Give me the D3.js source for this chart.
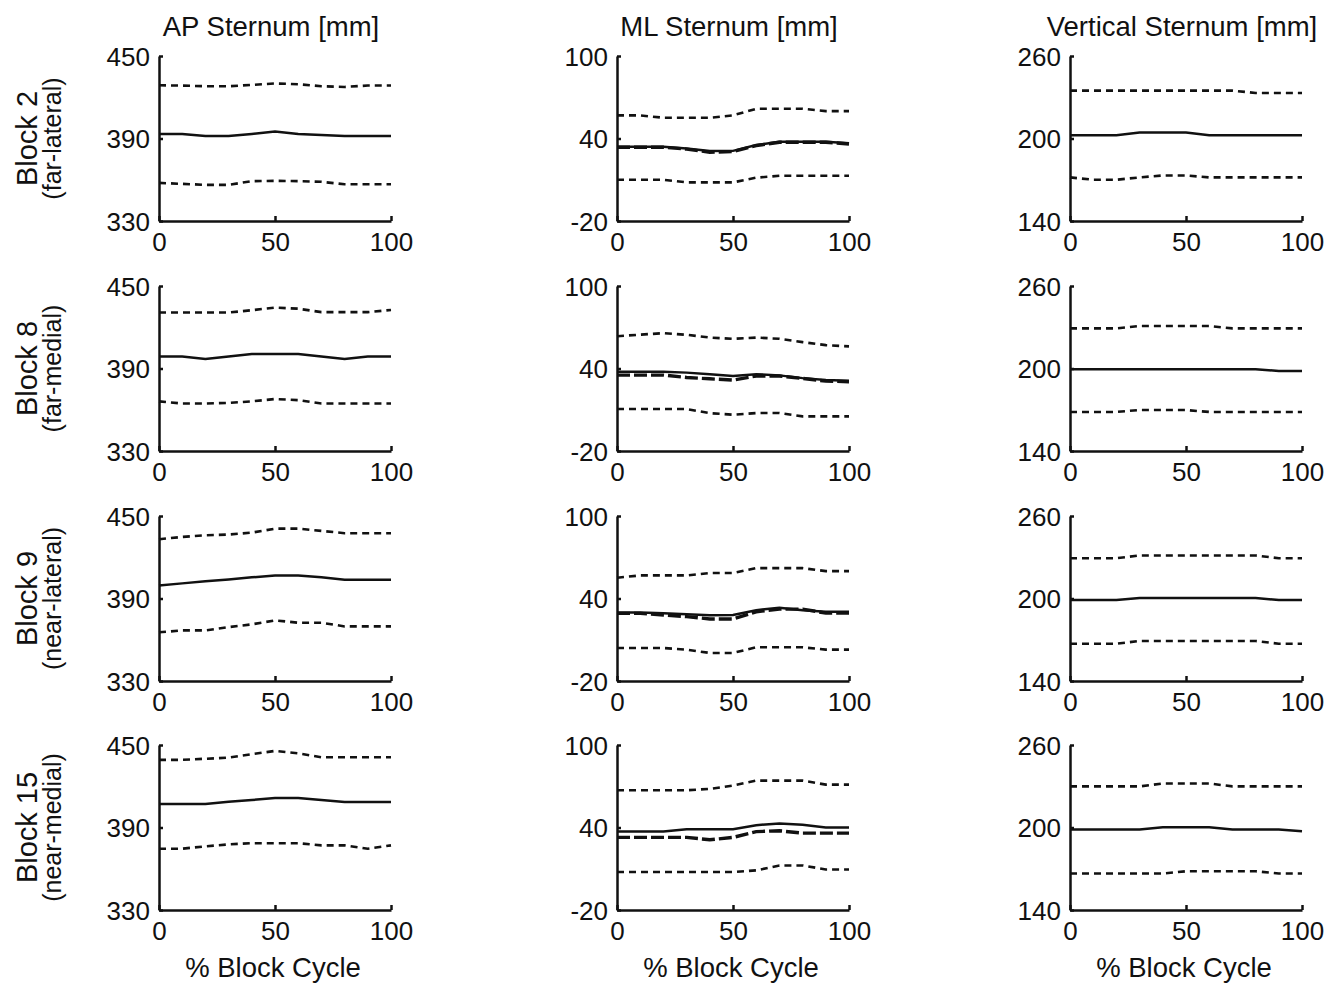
<!DOCTYPE html>
<html>
<head>
<meta charset="utf-8">
<script src="https://cdn.jsdelivr.net/npm/d3@7"></script>
<style>
  body { margin: 0; background: #fff; }
  svg { display: block; font-family: "Liberation Sans", Arial, sans-serif; }
  .axis path, .axis line { stroke: #111; stroke-width: 2.5; }
  .axis text { font-size: 26px; fill: #111; }
  .title { font-size: 27.5px; fill: #111; }
</style>
</head>
<body>
<svg id="chart" width="1337" height="984"></svg>
<script>
// ---- data ----
const xPct = [0, 10, 20, 30, 40, 50, 60, 70, 80, 90, 100];
const xTicks = [0, 50, 100];
const columnTitles = ["AP Sternum [mm]", "ML Sternum [mm]", "Vertical Sternum [mm]"];
const rowBlocks = ["Block 2", "Block 8", "Block 9", "Block 15"];
const rowSides = ["(far-lateral)", "(far-medial)", "(near-lateral)", "(near-medial)"];
const xLabel = "% Block Cycle";

const apTicks = [330, 390, 450];
const mlTicks = [-20, 40, 100];
const vtTicks = [140, 200, 260];

// AP sternum, one row per block
const apMean = [
  [393.3, 393.3, 391.8, 391.8, 393.3, 395.1, 393.3, 392.5, 391.8, 391.8, 391.8],
  [398.7, 398.7, 397.0, 398.7, 400.6, 400.6, 400.6, 398.7, 397.0, 398.7, 398.7],
  [399.4, 401.0, 402.5, 403.9, 405.4, 406.8, 406.8, 405.4, 403.7, 403.7, 403.7],
  [407.1, 407.1, 407.1, 408.8, 410.0, 411.4, 411.4, 410.0, 408.6, 408.6, 408.6]
];
const apUpper = [
  [428.7, 428.5, 428.0, 428.0, 429.0, 430.0, 429.5, 428.0, 427.5, 428.5, 428.5],
  [430.7, 430.7, 430.7, 430.7, 432.4, 434.3, 433.5, 431.0, 431.0, 431.0, 432.6],
  [433.1, 434.8, 436.0, 436.5, 437.9, 440.8, 440.8, 439.2, 437.5, 437.5, 437.5],
  [439.2, 439.2, 440.0, 440.8, 443.3, 445.7, 443.9, 441.1, 441.1, 441.1, 441.1]
];
const apLower = [
  [357.7, 357.0, 356.3, 356.3, 359.0, 359.2, 359.0, 358.5, 356.7, 356.7, 356.7],
  [366.1, 364.5, 364.5, 365.0, 366.1, 367.8, 367.0, 364.5, 364.5, 364.5, 364.5],
  [365.4, 366.8, 366.8, 369.2, 371.2, 374.1, 372.4, 372.4, 369.7, 369.7, 369.7],
  [374.6, 374.6, 376.3, 377.7, 378.6, 378.6, 378.6, 377.0, 377.0, 374.6, 377.0]
];

// ML sternum (with a second, bold dashed trace)
const mlMean = [
  [34.0, 34.0, 34.0, 32.8, 30.9, 31.0, 35.2, 37.6, 37.6, 37.6, 36.5],
  [37.6, 37.6, 37.6, 37.0, 35.9, 34.5, 35.9, 35.0, 33.0, 31.6, 31.1],
  [29.9, 29.9, 29.2, 28.5, 27.9, 28.0, 31.5, 33.3, 31.5, 30.3, 30.3],
  [37.1, 37.1, 37.1, 38.8, 38.8, 38.8, 41.7, 42.9, 42.0, 40.0, 40.0]
];
const mlAlt = [
  [33.6, 33.6, 33.6, 32.3, 30.0, 30.5, 34.8, 37.3, 37.3, 37.3, 36.0],
  [35.2, 35.2, 35.2, 33.5, 32.5, 31.6, 34.5, 34.5, 32.8, 30.8, 30.4],
  [29.2, 29.2, 28.0, 26.8, 25.1, 25.1, 30.3, 32.3, 32.3, 29.4, 29.4],
  [32.8, 32.8, 32.8, 32.8, 31.1, 32.8, 37.0, 37.6, 35.9, 35.9, 35.9]
];
const mlUpper = [
  [56.8, 56.8, 55.1, 55.1, 55.1, 56.8, 61.6, 61.6, 61.6, 59.9, 59.9],
  [63.5, 64.6, 65.7, 64.5, 62.5, 61.6, 62.5, 61.6, 59.2, 57.0, 56.1],
  [55.1, 56.8, 56.8, 56.8, 58.5, 58.5, 62.1, 62.1, 62.1, 59.9, 59.9],
  [67.1, 67.1, 67.1, 67.1, 68.1, 70.5, 74.1, 74.1, 74.1, 71.2, 71.2]
];
const mlLower = [
  [10.0, 10.0, 10.0, 8.1, 8.1, 8.1, 11.5, 12.9, 12.9, 12.9, 12.9],
  [10.5, 10.5, 10.5, 10.5, 7.5, 6.4, 7.6, 7.6, 5.2, 5.2, 5.2],
  [4.0, 4.0, 4.0, 2.8, 0.4, 0.4, 4.5, 4.5, 4.5, 2.8, 2.8],
  [7.6, 7.6, 7.6, 7.6, 7.6, 7.6, 8.8, 12.4, 12.4, 9.5, 9.5]
];

// Vertical sternum
const vtMean = [
  [202.4, 202.4, 202.4, 204.4, 204.4, 204.4, 202.4, 202.4, 202.4, 202.4, 202.4],
  [199.4, 199.4, 199.4, 199.4, 199.4, 199.4, 199.4, 199.4, 199.4, 198.2, 198.2],
  [198.9, 198.9, 198.9, 200.4, 200.4, 200.4, 200.4, 200.4, 200.4, 198.9, 198.9],
  [198.5, 198.5, 198.5, 198.5, 200.2, 200.2, 200.2, 198.5, 198.5, 198.5, 197.3]
];
const vtUpper = [
  [234.8, 234.8, 234.8, 234.8, 234.8, 234.8, 234.8, 234.8, 233.1, 233.1, 233.1],
  [229.2, 229.2, 229.2, 230.9, 230.9, 230.9, 230.9, 229.2, 229.2, 229.2, 229.2],
  [229.3, 229.3, 229.3, 231.3, 231.3, 231.3, 231.3, 231.3, 231.3, 229.3, 229.3],
  [229.9, 229.9, 229.9, 229.9, 232.0, 232.0, 232.0, 229.9, 229.9, 229.9, 229.9]
];
const vtLower = [
  [171.7, 170.0, 170.0, 171.7, 173.1, 173.1, 171.7, 171.7, 171.7, 171.7, 171.7],
  [168.4, 168.4, 168.4, 169.8, 169.8, 169.8, 168.4, 168.4, 168.4, 168.4, 168.4],
  [167.1, 167.1, 167.1, 169.1, 169.1, 169.1, 169.1, 169.1, 169.1, 167.1, 167.1],
  [166.5, 166.5, 166.5, 166.5, 166.5, 168.2, 168.2, 168.2, 168.2, 166.5, 166.5]
];

// ---- layout ----
const svg = d3.select('#chart');
const COL_X = [159, 617, 1070];
const ROW_Y = [56, 286, 516, 745];
const PW = 232;
const PH = 165;

const x = d3.scaleLinear().domain([0, 100]).range([0, PW]);
const plain = d => String(d); // keep ascii hyphen for negatives

const columns = [
  { ticks: apTicks, mean: apMean, upper: apUpper, lower: apLower, alt: null },
  { ticks: mlTicks, mean: mlMean, upper: mlUpper, lower: mlLower, alt: mlAlt },
  { ticks: vtTicks, mean: vtMean, upper: vtUpper, lower: vtLower, alt: null }
];

columns.forEach((col, ci) => {
  const y = d3.scaleLinear().domain([col.ticks[0], col.ticks[2]]).range([PH, 0]);
  const line = d3.line()
    .x((d, i) => x(xPct[i]))
    .y(d => y(d));

  // column title
  svg.append('text')
    .attr('class', 'title')
    .attr('x', COL_X[ci] + PW / 2 - 4)
    .attr('y', 36)
    .attr('text-anchor', 'middle')
    .text(columnTitles[ci]);

  // x label under the last row
  svg.append('text')
    .attr('class', 'title')
    .attr('x', COL_X[ci] + PW / 2 - 2)
    .attr('y', 977)
    .attr('text-anchor', 'middle')
    .text(xLabel);

  ROW_Y.forEach((ry, ri) => {
    const g = svg.append('g').attr('transform', `translate(${COL_X[ci]},${ry})`);

    g.append('g')
      .attr('class', 'axis')
      .call(d3.axisLeft(y).tickValues(col.ticks).tickFormat(plain)
        .tickSizeInner(-4).tickSizeOuter(0).tickPadding(9))
      .call(s => s.selectAll('text').attr('dy', '0.36em'));

    g.append('g')
      .attr('class', 'axis')
      .attr('transform', `translate(0,${PH})`)
      .call(d3.axisBottom(x).tickValues(xTicks).tickFormat(plain)
        .tickSizeInner(-5).tickSizeOuter(0).tickPadding(12));

    // dashed limits
    [col.upper[ri], col.lower[ri]].forEach(arr => {
      g.append('path')
        .attr('d', line(arr))
        .attr('fill', 'none')
        .attr('stroke', '#111')
        .attr('stroke-width', 2.6)
        .attr('stroke-dasharray', '7,5');
    });

    // mean
    g.append('path')
      .attr('d', line(col.mean[ri]))
      .attr('fill', 'none')
      .attr('stroke', '#111')
      .attr('stroke-width', 2.5);

    if (col.alt) {
      g.append('path')
        .attr('d', line(col.alt[ri]))
        .attr('fill', 'none')
        .attr('stroke', '#111')
        .attr('stroke-width', 3.4)
        .attr('stroke-dasharray', '13,4');
    }
  });
});

// row labels
ROW_Y.forEach((ry, ri) => {
  const cy = ry + PH / 2;
  svg.append('text')
    .attr('transform', `translate(37,${cy}) rotate(-90)`)
    .attr('text-anchor', 'middle')
    .style('font-size', '29px')
    .style('fill', '#111')
    .text(rowBlocks[ri]);
  svg.append('text')
    .attr('transform', `translate(61,${cy}) rotate(-90)`)
    .attr('text-anchor', 'middle')
    .style('font-size', '25px')
    .style('fill', '#111')
    .text(rowSides[ri]);
});
</script>
</body>
</html>
